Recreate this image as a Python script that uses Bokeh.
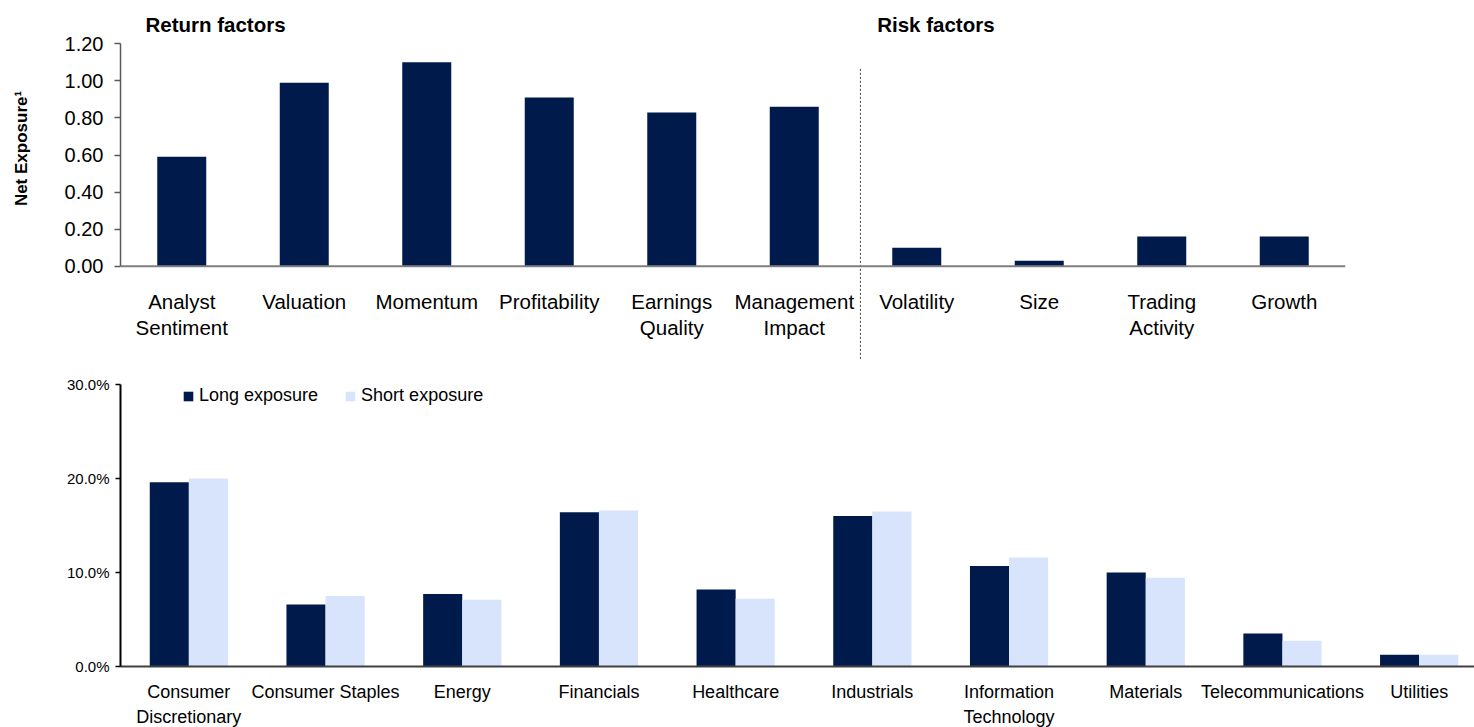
import math
from bokeh.plotting import figure
from bokeh.models import (Range1d, FixedTicker, PrintfTickFormatter, Span, Label,
                          Legend, LegendItem, ColumnDataSource)
from bokeh.layouts import column, row
from bokeh.transform import dodge
from bokeh.embed import file_html
from bokeh.resources import INLINE
from bokeh.core.properties import value

# ---------------- data ----------------
return_factors = ["Analyst\nSentiment", "Valuation", "Momentum", "Profitability",
                  "Earnings\nQuality", "Management\nImpact"]
risk_factors = ["Volatility", "Size", "Trading\nActivity", "Growth"]
net_exposure = [0.59, 0.99, 1.10, 0.91, 0.83, 0.86, 0.10, 0.03, 0.16, 0.16]
exposure_ticks = [0.0, 0.2, 0.4, 0.6, 0.8, 1.0, 1.2]
return_title = "Return factors"
risk_title = "Risk factors"
top_axis_title = "Net Exposure\u00b9"

sectors = ["Consumer\nDiscretionary", "Consumer Staples", "Energy", "Financials",
           "Healthcare", "Industrials", "Information\nTechnology", "Materials",
           "Telecommunications", "Utilities"]
long_exposure = [19.6, 6.6, 7.7, 16.4, 8.2, 16.0, 10.7, 10.0, 3.5, 1.25]
short_exposure = [20.0, 7.5, 7.1, 16.6, 7.2, 16.5, 11.6, 9.45, 2.75, 1.25]
sector_ticks = [0, 10, 20, 30]
series_names = ["Long exposure", "Short exposure"]

# ---------------- style ----------------
FONT = "Liberation Sans"
NAVY = "#001A4B"
LIGHT = "#D7E4FC"

LEFT_STRIP = 40
PX_X = 122.5
PX_Y = 185.3
ZERO_Y = 265.7
TOP_H = 365

# ---------------- y-axis title strip ----------------
strip = figure(width=LEFT_STRIP, height=TOP_H, min_border=0,
               x_range=Range1d(0, LEFT_STRIP), y_range=Range1d(0, TOP_H),
               x_axis_location=None, y_axis_location=None,
               output_backend="svg", toolbar_location=None)
strip.outline_line_color = None
strip.grid.visible = False
strip.background_fill_color = "white"
strip.border_fill_color = "white"
strip.text(x=[21], y=[TOP_H - 148], text=[top_axis_title], angle=math.pi / 2,
           text_align="center", text_baseline="alphabetic",
           text_font=value(FONT), text_font_style="bold", text_font_size="17px",
           text_color="#000000")

# ---------------- top chart ----------------
factors = return_factors + risk_factors
fx = list(range(len(factors)))

top = figure(frame_width=1225, frame_height=TOP_H,
             min_border_left=120 - LEFT_STRIP, min_border_right=129,
             min_border_top=0, min_border_bottom=0,
             x_range=Range1d(-0.5, len(factors) - 0.5),
             y_range=Range1d(-(TOP_H - ZERO_Y) / PX_Y, ZERO_Y / PX_Y),
             x_axis_location=None,
             output_backend="svg", toolbar_location=None)
top.outline_line_color = None
top.grid.visible = False
top.background_fill_color = "white"
top.border_fill_color = "white"

ya = top.yaxis[0]
ya.ticker = FixedTicker(ticks=exposure_ticks)
ya.formatter = PrintfTickFormatter(format="%.2f")
ya.bounds = (exposure_ticks[0], exposure_ticks[-1])
ya.axis_line_color = "#595959"
ya.axis_line_width = 1.5
ya.major_tick_line_color = "#595959"
ya.major_tick_line_width = 1.5
ya.major_tick_out = 6
ya.major_tick_in = 0
ya.minor_tick_line_color = None
ya.major_label_standoff = 11
ya.major_label_text_font = FONT
ya.major_label_text_font_size = "20px"
ya.major_label_text_color = "#000000"

tsrc = ColumnDataSource(dict(x=fx, label=factors, v=net_exposure))
top.vbar(x="x", top="v", width=0.4, source=tsrc, fill_color=NAVY, line_color=None)
top.add_layout(Span(location=0, dimension="width", line_color="#7F7F7F", line_width=2))

div_x = len(return_factors) - 0.5 + 0.04
top.segment(x0=[div_x], y0=[1.065], x1=[div_x], y1=[-(360 - ZERO_Y) / PX_Y],
            line_color="#404040", line_width=1, line_dash="2 2")

top.text(x="x", y=-0.126, text="label", source=tsrc,
         text_font=value(FONT), text_font_size="20.5px", text_align="center",
         text_baseline="top", text_line_height=1.14, text_color="#000000")

top.add_layout(Label(x=-0.296, y=1.306, text=return_title, text_font=FONT,
                     text_font_style="bold", text_font_size="20.5px",
                     text_baseline="alphabetic", text_color="#000000"))
top.add_layout(Label(x=len(return_factors) - 0.5 + 0.177, y=1.306, text=risk_title,
                     text_font=FONT, text_font_style="bold", text_font_size="20.5px",
                     text_baseline="alphabetic", text_color="#000000"))

# ---------------- bottom chart ----------------
sx = list(range(len(sectors)))
CAT_W = 136.7
bot = figure(frame_width=1354, frame_height=282,
             min_border_left=120 - LEFT_STRIP, min_border_right=0,
             min_border_top=19, min_border_bottom=0,
             x_range=Range1d(-0.5, -0.5 + 1354 / CAT_W),
             y_range=Range1d(sector_ticks[0], sector_ticks[-1]),
             output_backend="svg", toolbar_location=None)
bot.outline_line_color = None
bot.grid.visible = False
bot.background_fill_color = "white"
bot.border_fill_color = "white"

bsrc = ColumnDataSource(dict(x=sx, long=long_exposure, short=short_exposure))
r1 = bot.vbar(x=dodge("x", -0.143, range=bot.x_range), top="long", width=0.286,
              source=bsrc, fill_color=NAVY, line_color=None)
r2 = bot.vbar(x=dodge("x", 0.143, range=bot.x_range), top="short", width=0.286,
              source=bsrc, fill_color=LIGHT, line_color=None)

xa = bot.xaxis[0]
xa.ticker = FixedTicker(ticks=sx)
xa.major_label_overrides = {i: s for i, s in enumerate(sectors)}
xa.axis_line_color = "#404040"
xa.axis_line_width = 2
xa.major_tick_out = 0
xa.major_tick_in = 0
xa.minor_tick_line_color = None
xa.major_tick_line_color = None
xa.major_label_standoff = 15
xa.major_label_text_font = FONT
xa.major_label_text_font_size = "18px"
xa.major_label_text_line_height = 1.28
xa.major_label_text_color = "#000000"

yb = bot.yaxis[0]
yb.ticker = FixedTicker(ticks=sector_ticks)
yb.formatter = PrintfTickFormatter(format="%.1f%%")
yb.axis_line_color = "#000000"
yb.axis_line_width = 2
yb.major_tick_line_color = "#000000"
yb.major_tick_line_width = 1.5
yb.major_tick_out = 5
yb.major_tick_in = 0
yb.minor_tick_line_color = None
yb.major_label_standoff = 6
yb.major_label_text_font = FONT
yb.major_label_text_font_size = "15px"
yb.major_label_text_color = "#000000"

legend = Legend(items=[LegendItem(label=series_names[0], renderers=[r1]),
                       LegendItem(label=series_names[1], renderers=[r2])],
                location=(62, 260), orientation="horizontal",
                glyph_width=12, glyph_height=12, label_standoff=5, spacing=26,
                padding=0, margin=0, border_line_color=None,
                background_fill_alpha=0, label_text_font=FONT,
                label_text_font_size="18px", label_text_color="#000000")
bot.add_layout(legend)

layout = row(strip, column(top, bot))
open("out.html", "w").write(file_html(layout, INLINE))
